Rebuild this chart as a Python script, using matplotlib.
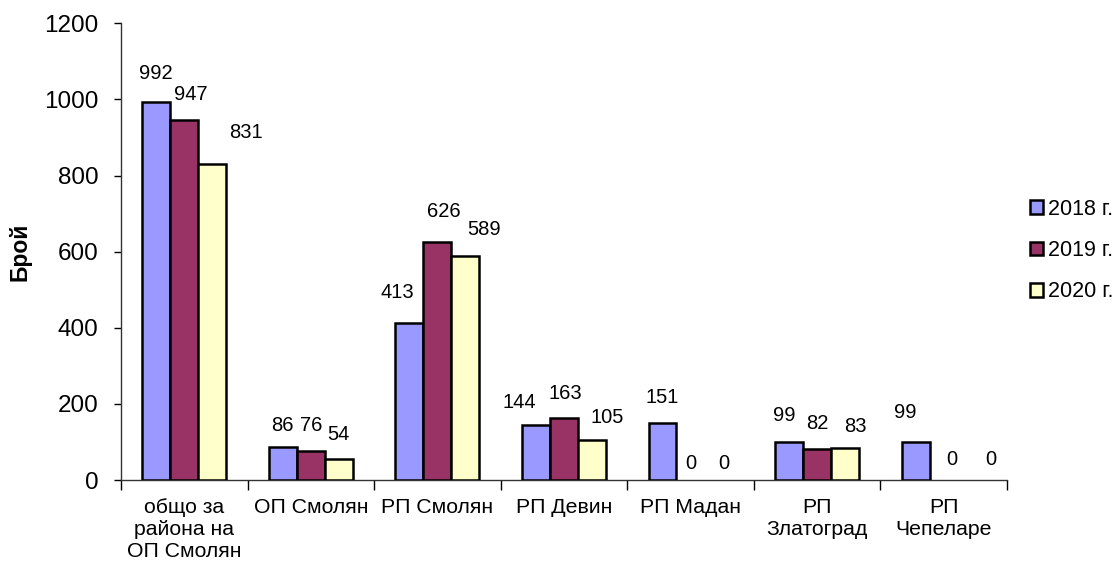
import matplotlib
matplotlib.use("Agg")
import matplotlib.pyplot as plt
import numpy as np

categories = ["общо за\nрайона на\nОП Смолян", "ОП Смолян", "РП Смолян", "РП Девин",
              "РП Мадан", "РП\nЗлатоград", "РП\nЧепеларе"]
series_names = ["2018 г.", "2019 г.", "2020 г."]
v2018 = [992, 86, 413, 144, 151, 99, 99]
v2019 = [947, 76, 626, 163, 0, 82, 0]
v2020 = [831, 54, 589, 105, 0, 83, 0]
yticks = [0, 200, 400, 600, 800, 1000, 1200]

colors = ["#9999FF", "#993366", "#FFFFCC"]

# label offsets (pixels) relative to bar centre / top, mimicking the reference placement
dx = [[0, 0, -12, -17, 0, -5, -10],
      [7, 0, 6, 1, 0, 0, 8],
      [34, 0, 19, 15, 5, 10, 19]]
dy = [[29, 22, 30, 23, 25, 27, 30],
      [25, 26, 30, 24, 17, 25, 21],
      [31, 25, 26, 23, 17, 22, 21]]

plt.rcParams['font.family'] = ['Liberation Sans', 'DejaVu Sans']

fig = plt.figure(figsize=(11.2, 5.63), dpi=100)
ax = fig.add_axes([0.108, 0.1474, 0.791, 0.8112])

x = np.arange(len(categories))
w = 0.221
data = [v2018, v2019, v2020]
for s, (vals, col, name) in enumerate(zip(data, colors, series_names)):
    pos = x + (s - 1) * w
    bars = ax.bar(pos, vals, width=w, color=col, edgecolor='black', linewidth=1.8,
                  label=name, zorder=3)
    for b, v in zip(bars, vals):
        if v == 0:
            b.set_visible(False)
    for i, (p, v) in enumerate(zip(pos, vals)):
        ax.annotate(str(v), xy=(p, v), xytext=(dx[s][i], dy[s][i]),
                    textcoords='offset pixels', ha='center', va='center',
                    fontsize=14.5, color='black')

ax.set_xlim(-0.5, len(categories) - 0.5)
ax.set_ylim(0, 1200)
ax.set_yticks(yticks)
ax.set_yticklabels([str(t) for t in yticks], fontsize=17.5)
ax.tick_params(axis='y', direction='out', length=5, width=1, pad=11)

ax.set_xticks(x)
ax.set_xticklabels(categories, fontsize=15.3, linespacing=1.2, va='top')
ax.tick_params(axis='x', which='major', length=0, pad=13)
ax.set_xticks(np.arange(len(categories) + 1) - 0.5, minor=True)
ax.tick_params(axis='x', which='minor', direction='out', length=7, width=1)

for sp in ['top', 'right']:
    ax.spines[sp].set_visible(False)
for sp in ['left', 'bottom']:
    ax.spines[sp].set_color('#333333')
    ax.spines[sp].set_linewidth(1)

fig.text(0.018, 0.552, "Брой", fontsize=16.5, fontweight='bold', rotation=90,
         ha='center', va='center')

leg = fig.legend(loc='center left', bbox_to_anchor=(0.912, 0.555), frameon=False,
                 fontsize=15.5, handlelength=0.6, handleheight=0.6, handletextpad=0.25,
                 labelspacing=0.95, borderaxespad=0)
for h in leg.legend_handles:
    h.set_linewidth(1.8)

fig.savefig("out.png", dpi=100)
